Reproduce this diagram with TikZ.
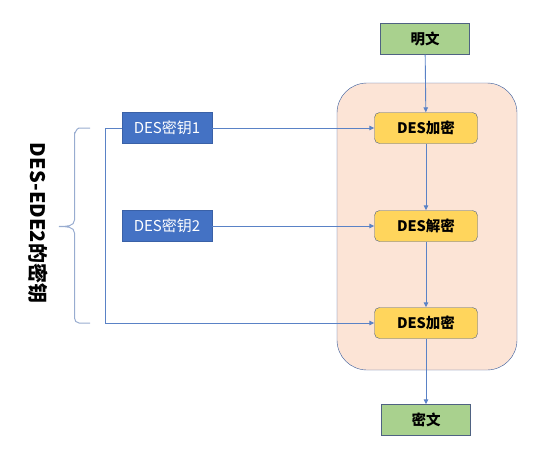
\documentclass[tikz,border=0pt]{standalone}
\usepackage{fontspec}
\setmainfont{Noto Sans CJK SC}
\usetikzlibrary{arrows.meta,positioning}
\definecolor{keyblue}{HTML}{4472C4}
\definecolor{linkblue}{HTML}{5A82C6}
\definecolor{cryptyellow}{HTML}{FFD55C}
\definecolor{textgreen}{HTML}{A9D18E}
\definecolor{groupfill}{HTML}{FCE4D6}
\definecolor{edgegray}{HTML}{4F6282}
\definecolor{bracegray}{HTML}{98ACD0}

\begin{document}
\begin{tikzpicture}[
    x=1pt, y=-1pt,
    keybox/.style={
        draw=keyblue!85!black,
        fill=keyblue,
        text=white,
        minimum width=90pt,
        minimum height=31pt,
        font=\fontsize{15}{17}\selectfont,
        inner sep=2pt
    },
    cryptbox/.style={
        draw=edgegray,
        fill=cryptyellow,
        rounded corners=5pt,
        minimum width=103pt,
        minimum height=31pt,
        font=\fontsize{14.5}{16}\selectfont\bfseries,
        inner sep=2pt
    },
    plainbox/.style={
        draw=edgegray,
        fill=textgreen,
        minimum width=89pt,
        minimum height=31pt,
        font=\fontsize{14.5}{16}\selectfont\bfseries,
        inner sep=2pt
    },
    groupbox/.style={
        draw=keyblue!80!black,
        fill=groupfill,
        rounded corners=30pt,
        minimum width=180pt,
        minimum height=287pt
    },
    flow/.style={
        draw=linkblue,
        line width=0.9pt,
        -{Triangle[length=5pt,width=4.5pt]}
    },
    keybrace/.style={
        draw=bracegray,
        line width=1pt
    }
]
\useasboundingbox (0,0) rectangle (558,458);

% encryption chain
\node[groupbox] (group) at (427,226.5) {};
\node[plainbox] (plain) at (425,39) {明文};
\node[cryptbox] (enc1) at (426,128) {DES加密};
\node[cryptbox] (dec) at (426,226) {DES解密};
\node[cryptbox] (enc2) at (426,323) {DES加密};
\node[plainbox] (cipher) at (426,420) {密文};

% keys
\node[keybox] (key1) at (167,128) {DES密钥1};
\node[keybox] (key2) at (167,226) {DES密钥2};

\draw[flow] (plain) -- (enc1);
\draw[flow] (enc1) -- (dec);
\draw[flow] (dec) -- (enc2);
\draw[flow] (enc2) -- (cipher);
\draw[flow] (key1) -- (enc1);
\draw[flow] (key2) -- (dec);
\draw[flow] (key1.west) -- ++(-16,0) |- (enc2.west);

% brace and label
\coordinate (bracetop) at (90,128);
\coordinate (bracebot) at (90,323);
\draw[keybrace] (bracetop) -- (79,128) to[out=180,in=-90] (74.5,133)
    -- (74.5,220) to[out=-90,in=0] (59,226.5) to[out=0,in=90] (74.5,233)
    -- (74.5,318) to[out=-90,in=180] (79,323) -- (bracebot);
\node[rotate=-90, font=\fontsize{20}{22}\selectfont\bfseries] (keylabel) at (38,223) {DES-EDE2的密钥};

\end{tikzpicture}
\end{document}
